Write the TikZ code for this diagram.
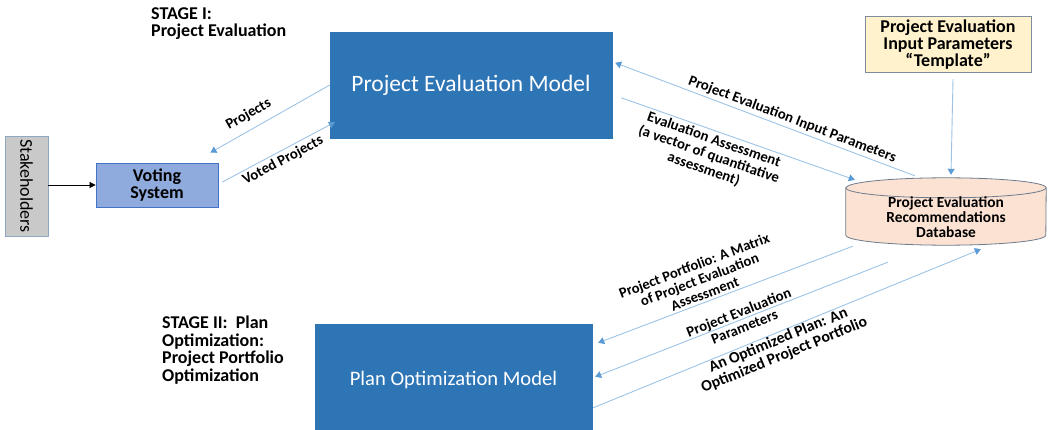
\documentclass[tikz,border=0pt]{standalone}
\usepackage{fontspec}
\setmainfont{Carlito}
\usetikzlibrary{arrows.meta,calc}
\definecolor{pemblue}{HTML}{2E75B6}
\definecolor{votefill}{HTML}{8FAADC}
\definecolor{voteline}{HTML}{4472C4}
\definecolor{stakefill}{HTML}{C9C9C9}
\definecolor{stakeline}{HTML}{8FA7C0}
\definecolor{tmplfill}{HTML}{FFF2CC}
\definecolor{tmplline}{HTML}{7F8C9E}
\definecolor{dbfill}{HTML}{FBE2D3}
\definecolor{dbline}{HTML}{6E7B8C}
\definecolor{flowline}{HTML}{9DC3E6}
\definecolor{flowhead}{HTML}{5B9BD5}
\tikzset{
  model/.style={rectangle, fill=pemblue, draw=pemblue, text=white},
  flow/.style={draw=flowline, line width=0.9pt, -{Triangle[width=7pt,length=6pt,fill=flowhead,color=flowhead]}},
  flowlabel/.style={font=\bfseries\fontsize{14.8}{15.5}\selectfont, align=center, sloped, inner sep=2.5pt},
  stagelabel/.style={font=\bfseries\fontsize{18}{17.5}\selectfont, align=left, inner sep=0pt, anchor=north west},
}
\begin{document}
\begin{tikzpicture}[x=1pt,y=-1pt]
\useasboundingbox (0,0) rectangle (1056,430);
% nodes
\node[stagelabel] (s1) at (151,7) {STAGE I:\\Project Evaluation};
\node[stagelabel] (s2) at (162,316) {STAGE II:~~Plan\\Optimization:\\Project Portfolio\\Optimization};
\node[rectangle, fill=stakefill, draw=stakeline, line width=0.8pt, minimum width=43pt, minimum height=100pt, inner sep=0pt] (stake) at (26.5,186) {\rotatebox{-90}{\fontsize{18}{20}\selectfont Stakeholders}};
\node[rectangle, fill=votefill, draw=voteline, line width=0.8pt, minimum width=122pt, minimum height=44pt, align=center, font=\bfseries\fontsize{18}{17.5}\selectfont] (vote) at (157,185) {Voting\\System};
\node[model, minimum width=282pt, minimum height=106pt, font=\fontsize{23.5}{26}\selectfont] (pem) at (471,85) {Project Evaluation Model};
\node[model, minimum width=277pt, minimum height=112pt, font=\fontsize{20.6}{24}\selectfont] (pom) at (453.5,380) {Plan Optimization Model};
\node[rectangle, fill=tmplfill, draw=tmplline, line width=0.8pt, minimum width=166pt, minimum height=55pt, align=center, font=\bfseries\fontsize{18}{17}\selectfont] (tmpl) at (948,44.5) {Project Evaluation\\Input Parameters\\“Template”};
% database cylinder
\node[rectangle, minimum width=200pt, minimum height=67pt, inner sep=0pt] (db) at (946,211.5) {};
\filldraw[fill=dbfill, draw=dbline, line width=0.8pt]
  ($(db.north west)+(0,10)$) -- ($(db.south west)+(0,-10)$)
  arc[start angle=180, end angle=360, x radius=100pt, y radius=10pt]
  -- ($(db.north east)+(0,10)$)
  arc[start angle=0, end angle=180, x radius=100pt, y radius=10pt] -- cycle;
\draw[dbline, line width=0.8pt] ($(db.north west)+(0,10)$) arc[start angle=180, end angle=360, x radius=100pt, y radius=10pt];
\node[align=center, font=\bfseries\fontsize{15.4}{15}\selectfont] (dbtext) at (946,217) {Project Evaluation\\Recommendations\\Database};
% connectors
\draw[-{Triangle[width=6pt,length=6pt]}, line width=0.7pt] (stake.east |- vote.west) -- (vote.west);
\draw[flow] (pem.west) -- node[flowlabel, above=5pt, pos=0.62] {Projects} ($(vote.north east)+(-8,-10)$);
\draw[flow] ($(vote.east)+(4,-3)$) -- node[flowlabel, below, pos=0.5] {Voted Projects} ($(pem.south west)+(5,-16)$);
\draw[flow] ($(db.north west)+(69,-2)$) -- node[flowlabel, above, pos=0.42] {Project Evaluation Input Parameters} ($(pem.north east)+(3,31)$);
\draw[flow] ($(pem.north east)+(9,66)$) -- node[flowlabel, below, pos=0.41] {Evaluation Assessment\\(a vector of quantitative\\assessment)} ($(db.north west)+(9,2)$);
\draw[flow] ($(tmpl.south)+(5,6)$) -- ($(db.north)+(5,-3)$);
\draw[flow] ($(db.south west)+(7,1)$) -- node[flowlabel, above=0pt, pos=0.57, font=\bfseries\fontsize{14.6}{15}\selectfont] {Project Portfolio: A Matrix\\of Project Evaluation\\Assessment} ($(pom.north east)+(6,19)$);
\draw[flow] ($(db.south west)+(42,17)$) -- node[flowlabel, pos=0.5] {Project Evaluation\\Parameters} ($(pom.north east)+(3,53)$);
\draw[flow] ($(pom.north east)+(1,84)$) -- node[flowlabel, below=-2pt, pos=0.47, font=\bfseries\fontsize{15.8}{16}\selectfont] {An Optimized Plan: An\\Optimized Project Portfolio} ($(db.south west)+(135,4)$);
\end{tikzpicture}
\end{document}
